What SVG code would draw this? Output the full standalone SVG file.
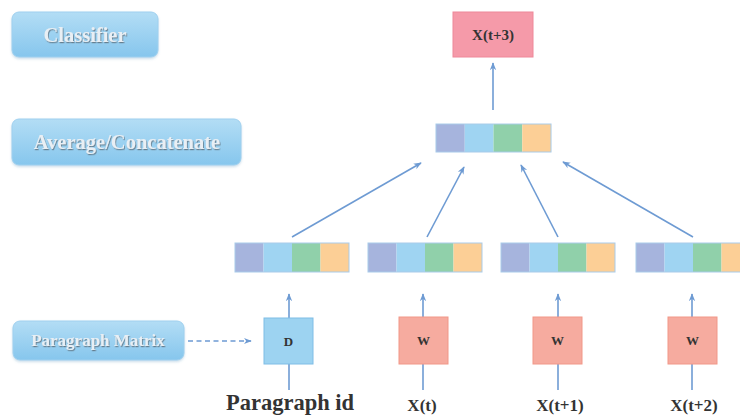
<svg xmlns="http://www.w3.org/2000/svg" width="740" height="416" viewBox="0 0 740 416">
<defs>
<linearGradient id="lbl" x1="0" y1="0" x2="0" y2="1">
<stop offset="0" stop-color="#b3ddf5"/>
<stop offset="1" stop-color="#86c6ed"/>
</linearGradient>
<filter id="ts" x="-10%" y="-30%" width="120%" height="160%">
<feDropShadow dx="0.8" dy="1.2" stdDeviation="0.6" flood-color="#5a6a78" flood-opacity="0.8"/>
</filter>
<filter id="bs" x="-5%" y="-10%" width="110%" height="130%">
<feDropShadow dx="0" dy="1.5" stdDeviation="1.2" flood-color="#6a9fc4" flood-opacity="0.35"/>
</filter>
<marker id="ah" viewBox="0 0 10 10" refX="9" refY="5" markerWidth="8" markerHeight="8" markerUnits="userSpaceOnUse" orient="auto">
<path d="M0,1 L10,5 L0,9 L3,5 Z" fill="#6e9bd3"/>
</marker>
<g id="vec">
<rect x="0" y="0" width="28.5" height="29" fill="#a6b4dd"/>
<rect x="28.5" y="0" width="28.5" height="29" fill="#9fd4f2"/>
<rect x="57" y="0" width="28.5" height="29" fill="#90d0aa"/>
<rect x="85.5" y="0" width="28.5" height="29" fill="#fccf96"/>
<rect x="0" y="0" width="114" height="29" fill="none" stroke="#a9cbe9" stroke-width="1"/>
</g>
</defs>
<style>
.lbl{fill:url(#lbl);stroke:#9fd0ef;stroke-width:1;filter:url(#bs)}
.lt{font-family:"Liberation Serif","Times New Roman",serif;font-weight:bold;fill:#e9eff4;text-anchor:middle;filter:url(#ts)}
.bt{font-family:"Liberation Serif","Times New Roman",serif;font-weight:bold;fill:#333;text-anchor:middle}
.con{stroke:#6e9bd3;stroke-width:1.6;fill:none}
.arr{marker-end:url(#ah)}
.wbox{fill:#f6ab9f;stroke:#f19788;stroke-width:1}
.dbox{fill:#9dd3f1;stroke:#7fbde6;stroke-width:1}
</style>
<rect width="740" height="416" fill="#ffffff"/>

<g id="connectors">
<line class="con arr" x1="493" y1="110" x2="493" y2="63"/>
<line class="con arr" x1="292" y1="237" x2="421" y2="163"/>
<line class="con arr" x1="427" y1="237" x2="464" y2="167"/>
<line class="con arr" x1="558" y1="237" x2="521" y2="165"/>
<line class="con arr" x1="693" y1="237" x2="563" y2="162"/>
<line class="con arr" x1="289" y1="390" x2="289" y2="294"/>
<line class="con arr" x1="423" y1="390" x2="423" y2="294"/>
<line class="con arr" x1="558" y1="390" x2="558" y2="294"/>
<line class="con arr" x1="692" y1="390" x2="692" y2="294"/>
<line class="con arr" x1="188" y1="341" x2="251" y2="341" stroke-dasharray="5,3.5"/>
</g>

<g id="classifier">
<rect class="lbl" x="12" y="12" width="146" height="45" rx="7"/>
<text class="lt" x="85" y="42" font-size="20.5">Classifier</text>
</g>
<g id="average">
<rect class="lbl" x="12" y="119" width="229" height="46" rx="7"/>
<text class="lt" x="127" y="149" font-size="20.5">Average/Concatenate</text>
</g>
<g id="paragraph-matrix">
<rect class="lbl" x="13" y="321" width="171" height="39" rx="7"/>
<text class="lt" x="98" y="346" font-size="17">Paragraph Matrix</text>
</g>

<g id="output">
<rect x="453" y="12" width="80" height="45" fill="#f59aa9" stroke="#ee8899" stroke-width="1"/>
<text class="bt" x="493" y="40" font-size="15">X(t+3)</text>
</g>

<g id="top-vector">
<use href="#vec" transform="translate(436,124) scale(1.009,0.966)"/>
</g>
<g id="vector-d"><use href="#vec" x="235" y="243"/></g>
<g id="vector-w1"><use href="#vec" x="368" y="243"/></g>
<g id="vector-w2"><use href="#vec" x="501" y="243"/></g>
<g id="vector-w3"><use href="#vec" x="636" y="243"/></g>

<g id="d">
<rect class="dbox" x="264" y="318" width="49" height="46"/>
<text class="bt" x="288.5" y="346" font-size="13">D</text>
</g>
<g id="w1">
<rect class="wbox" x="399" y="317" width="49" height="47"/>
<text class="bt" x="423.5" y="345" font-size="13">W</text>
</g>
<g id="w2">
<rect class="wbox" x="533" y="317" width="49" height="47"/>
<text class="bt" x="557.5" y="345" font-size="13">W</text>
</g>
<g id="w3">
<rect class="wbox" x="668" y="317" width="49" height="47"/>
<text class="bt" x="692.5" y="345" font-size="13">W</text>
</g>

<g id="labels">
<text class="bt" x="290" y="410" font-size="22.5" fill="#3a3a3a">Paragraph id</text>
<text class="bt" x="422" y="411" font-size="17">X(t)</text>
<text class="bt" x="560" y="411" font-size="17">X(t+1)</text>
<text class="bt" x="694" y="411" font-size="17">X(t+2)</text>
</g>
</svg>
